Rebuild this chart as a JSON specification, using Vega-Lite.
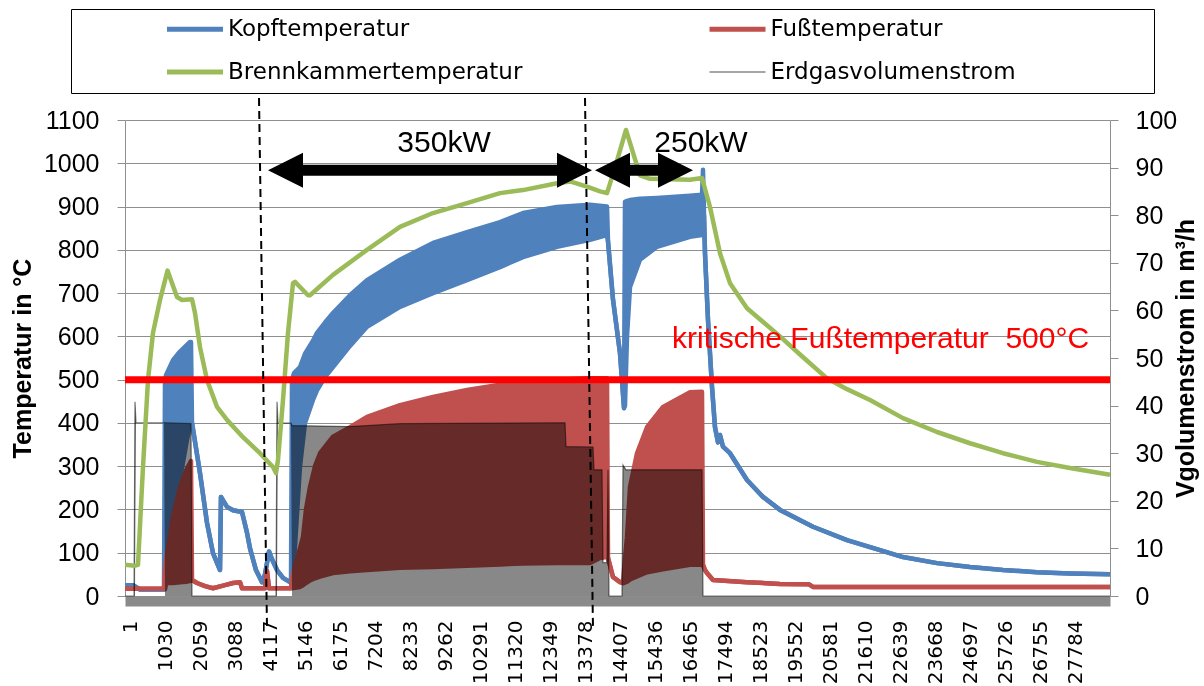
{
  "$schema": "https://vega.github.io/schema/vega-lite/v6.json",
  "width": 985,
  "height": 476,
  "autosize": {"type": "none"},
  "padding": {"left": 125, "top": 120, "right": 94, "bottom": 90},
  "background": "white",
  "config": {
    "view": {"stroke": null},
    "font": "Liberation Sans",
    "axis": {"labelColor": "black", "titleColor": "black"},
    "axisX": {"labelOverlap": false, "labelSeparation": 0}
  },
  "datasets": {
    "kopf": [
      {"s":1,"lo":25,"hi":25},{"s":236,"lo":25,"hi":25},{"s":442,"lo":15,"hi":15},{"s":1148,"lo":15,"hi":15},
      {"s":1177,"lo":15,"hi":500},{"s":1206,"lo":75,"hi":510},{"s":1412,"lo":170,"hi":545},{"s":1618,"lo":270,"hi":565},
      {"s":1912,"lo":400,"hi":587},{"s":1941,"lo":400,"hi":587},{"s":1971,"lo":400,"hi":400},{"s":2206,"lo":284,"hi":284},
      {"s":2412,"lo":169,"hi":169},{"s":2588,"lo":99,"hi":99},{"s":2794,"lo":60,"hi":60},{"s":2823,"lo":229,"hi":229},
      {"s":3000,"lo":206,"hi":206},{"s":3176,"lo":198,"hi":198},{"s":3441,"lo":194,"hi":194},{"s":3588,"lo":146,"hi":146},
      {"s":3676,"lo":110,"hi":110},{"s":3852,"lo":60,"hi":60},{"s":4029,"lo":32,"hi":32},{"s":4117,"lo":50,"hi":50},
      {"s":4235,"lo":103,"hi":103},{"s":4323,"lo":85,"hi":85},{"s":4470,"lo":60,"hi":60},{"s":4646,"lo":42,"hi":42},
      {"s":4852,"lo":32,"hi":32},{"s":4881,"lo":30,"hi":30},{"s":4911,"lo":30,"hi":500},{"s":4970,"lo":80,"hi":515},
      {"s":5146,"lo":300,"hi":529},{"s":5293,"lo":400,"hi":560},{"s":5528,"lo":453,"hi":590},{"s":5646,"lo":475,"hi":608},
      {"s":5881,"lo":506,"hi":632},{"s":6116,"lo":529,"hi":654},{"s":6616,"lo":578,"hi":695},{"s":7116,"lo":622,"hi":730},
      {"s":8086,"lo":668,"hi":777},{"s":9056,"lo":700,"hi":816},{"s":10056,"lo":730,"hi":841},{"s":11026,"lo":760,"hi":864},
      {"s":11702,"lo":783,"hi":885},{"s":12702,"lo":807,"hi":899},{"s":13672,"lo":823,"hi":904},{"s":14172,"lo":834,"hi":900},
      {"s":14201,"lo":820,"hi":820},{"s":14348,"lo":685,"hi":685},{"s":14554,"lo":561,"hi":561},{"s":14672,"lo":434,"hi":434},
      {"s":14701,"lo":440,"hi":911},{"s":14760,"lo":600,"hi":913},{"s":14848,"lo":714,"hi":915},{"s":15142,"lo":777,"hi":918},
      {"s":15642,"lo":807,"hi":920},{"s":16612,"lo":830,"hi":925},{"s":16965,"lo":834,"hi":927},{"s":16994,"lo":834,"hi":985},
      {"s":17024,"lo":880,"hi":880},{"s":17053,"lo":792,"hi":792},{"s":17141,"lo":638,"hi":638},{"s":17259,"lo":483,"hi":483},
      {"s":17347,"lo":390,"hi":390},{"s":17435,"lo":355,"hi":355},{"s":17494,"lo":372,"hi":372},{"s":17582,"lo":345,"hi":345},
      {"s":17788,"lo":330,"hi":330},{"s":18288,"lo":268,"hi":268},{"s":18758,"lo":229,"hi":229},{"s":19258,"lo":199,"hi":199},
      {"s":20228,"lo":160,"hi":160},{"s":21228,"lo":129,"hi":129},{"s":22198,"lo":106,"hi":106},{"s":22874,"lo":90,"hi":90},
      {"s":23874,"lo":76,"hi":76},{"s":24844,"lo":67,"hi":67},{"s":25814,"lo":60,"hi":60},{"s":26814,"lo":55,"hi":55},
      {"s":27784,"lo":52,"hi":52},{"s":28960,"lo":50,"hi":50}
    ],
    "fuss": [
      {"s":1,"lo":17,"hi":17},{"s":1148,"lo":17,"hi":17},{"s":1177,"lo":17,"hi":60},{"s":1206,"lo":30,"hi":83},
      {"s":1412,"lo":30,"hi":183},{"s":1618,"lo":32,"hi":252},{"s":1795,"lo":33,"hi":290},{"s":1941,"lo":35,"hi":312},
      {"s":1971,"lo":37,"hi":37},{"s":2118,"lo":30,"hi":30},{"s":2353,"lo":23,"hi":23},{"s":2588,"lo":18,"hi":18},
      {"s":2941,"lo":25,"hi":25},{"s":3176,"lo":30,"hi":30},{"s":3382,"lo":32,"hi":32},{"s":3441,"lo":18,"hi":18},
      {"s":4117,"lo":18,"hi":18},{"s":4176,"lo":58,"hi":58},{"s":4235,"lo":18,"hi":18},{"s":4881,"lo":18,"hi":18},
      {"s":4911,"lo":18,"hi":40},{"s":4999,"lo":19,"hi":70},{"s":5146,"lo":21,"hi":110},{"s":5234,"lo":25,"hi":136},
      {"s":5322,"lo":30,"hi":200},{"s":5440,"lo":36,"hi":252},{"s":5587,"lo":41,"hi":300},{"s":5734,"lo":45,"hi":330},
      {"s":6116,"lo":53,"hi":368},{"s":6616,"lo":57,"hi":390},{"s":7116,"lo":60,"hi":414},{"s":8086,"lo":65,"hi":441},
      {"s":9056,"lo":67,"hi":460},{"s":10056,"lo":70,"hi":476},{"s":11026,"lo":73,"hi":488},{"s":11702,"lo":75,"hi":496},
      {"s":12702,"lo":76,"hi":500},{"s":13672,"lo":76,"hi":503},{"s":13966,"lo":88,"hi":503},{"s":14172,"lo":90,"hi":503},
      {"s":14201,"lo":88,"hi":88},{"s":14348,"lo":44,"hi":44},{"s":14554,"lo":32,"hi":32},{"s":14642,"lo":30,"hi":30},
      {"s":14672,"lo":30,"hi":60},{"s":14760,"lo":33,"hi":136},{"s":14848,"lo":38,"hi":252},{"s":15054,"lo":45,"hi":330},
      {"s":15348,"lo":55,"hi":390},{"s":15818,"lo":62,"hi":437},{"s":16612,"lo":72,"hi":471},{"s":16965,"lo":72,"hi":472},
      {"s":16994,"lo":72,"hi":72},{"s":17053,"lo":60,"hi":60},{"s":17112,"lo":53,"hi":53},{"s":17288,"lo":37,"hi":37},
      {"s":18288,"lo":32,"hi":32},{"s":19258,"lo":28,"hi":28},{"s":20110,"lo":27,"hi":27},{"s":20228,"lo":21,"hi":21},
      {"s":28960,"lo":21,"hi":21}
    ],
    "brenn": [
      {"s":1,"t":72},{"s":295,"t":70},{"s":383,"t":72},{"s":530,"t":298},{"s":677,"t":499},{"s":824,"t":608},
      {"s":1030,"t":684},{"s":1251,"t":752},{"s":1530,"t":691},{"s":1677,"t":684},{"s":1971,"t":686},{"s":2059,"t":654},
      {"s":2206,"t":575},{"s":2412,"t":499},{"s":2706,"t":437},{"s":3000,"t":407},{"s":3470,"t":367},{"s":3970,"t":330},
      {"s":4352,"t":298},{"s":4440,"t":284},{"s":4499,"t":314},{"s":4646,"t":453},{"s":4793,"t":608},{"s":4940,"t":723},
      {"s":4999,"t":726},{"s":5146,"t":714},{"s":5381,"t":695},{"s":5440,"t":695},{"s":6116,"t":742},{"s":7116,"t":800},
      {"s":8086,"t":853},{"s":9056,"t":885},{"s":10056,"t":908},{"s":11026,"t":931},{"s":11702,"t":938},{"s":12702,"t":954},
      {"s":13084,"t":958},{"s":13584,"t":946},{"s":13966,"t":935},{"s":14172,"t":931},{"s":14407,"t":990},{"s":14730,"t":1077},
      {"s":15142,"t":972},{"s":15436,"t":964},{"s":16612,"t":962},{"s":16965,"t":966},{"s":17200,"t":899},{"s":17494,"t":792},
      {"s":17788,"t":723},{"s":18288,"t":665},{"s":19258,"t":600},{"s":19846,"t":558},{"s":20640,"t":503},{"s":21228,"t":478},
      {"s":21904,"t":453},{"s":22874,"t":411},{"s":23874,"t":379},{"s":24844,"t":353},{"s":25814,"t":330},{"s":26814,"t":310},
      {"s":27784,"t":296},{"s":28960,"t":280}
    ],
    "gas": [
      {"s":1,"lo":0,"hi":0},{"s":266,"lo":0,"hi":0},{"s":295,"lo":0,"hi":40.8},{"s":324,"lo":36.4,"hi":36.4},
      {"s":1148,"lo":36.4,"hi":36.4},{"s":1177,"lo":0,"hi":36.4},{"s":1941,"lo":0,"hi":36.2},{"s":1971,"lo":0,"hi":0},
      {"s":4441,"lo":0,"hi":0},{"s":4470,"lo":0,"hi":40.8},{"s":4499,"lo":36.3,"hi":36.3},{"s":4881,"lo":36.3,"hi":36.3},
      {"s":4911,"lo":0,"hi":35.8},{"s":6616,"lo":0,"hi":35.6},{"s":8086,"lo":0,"hi":36.2},{"s":12937,"lo":0,"hi":36.4},
      {"s":12966,"lo":0,"hi":31.4},{"s":13760,"lo":0,"hi":31.3},{"s":13790,"lo":0,"hi":26.5},{"s":14025,"lo":0,"hi":26.5},
      {"s":14054,"lo":0,"hi":7},{"s":14172,"lo":0,"hi":7},{"s":14201,"lo":0,"hi":26.5},{"s":14231,"lo":0,"hi":0},
      {"s":14613,"lo":0,"hi":0},{"s":14642,"lo":0,"hi":27.5},{"s":14730,"lo":0,"hi":26.5},{"s":16965,"lo":0,"hi":26.5},
      {"s":16994,"lo":0,"hi":0},{"s":28960,"lo":0,"hi":0}
    ],
    "grenze": [{"t": 500, "s": 16083, "text": "kritische Fußtemperatur\u00a0 500°C"}],
    "phasen": [
      {"s1": 3941, "s2": 4176, "t1": 1151, "t2": -74},
      {"s1": 13525, "s2": 13760, "t1": 1151, "t2": -74}
    ],
    "pfeile": [
      {"from": 4205, "to": 13730, "s1": 4852, "s2": 13084, "t": 984, "label": "350kW", "at": 9380},
      {"from": 13819, "to": 16700, "s1": 14407, "s2": 16112, "t": 984, "label": "250kW", "at": 16935}
    ]
  },
  "layer": [
    {
      "layer": [
        {
          "data": {"name": "kopf"},
          "mark": {"type": "area"},
          "encoding": {
            "x": {
              "field": "s", "type": "quantitative", "title": null,
              "scale": {"domain": [1, 28960]},
              "axis": {
                "values": [1,1030,2059,3088,4117,5146,6175,7204,8233,9262,10291,11320,12349,13378,14407,15436,16465,17494,18523,19552,20581,21610,22639,23668,24697,25726,26755,27784],
                "tickCount": 40,
                "format": "d", "labelAngle": -90, "ticks": false, "grid": false,
                "domainColor": "#8a8a8a", "domainWidth": 10, "offset": 5,
                "labelPadding": 19, "labelOffset": 5, "labelFont": "DejaVu Sans", "labelFontSize": 20,
                "labelOverlap": false, "labelSeparation": 0, "labelFlush": false
              }
            },
            "y": {
              "field": "lo", "type": "quantitative", "title": "Temperatur in °C",
              "scale": {"domain": [0, 1100]},
              "axis": {
                "orient": "left", "values": [0,100,200,300,400,500,600,700,800,900,1000,1100], "format": "d",
                "tickCount": 20,
                "grid": true, "gridColor": "#8f8f8f", "domainColor": "#8f8f8f", "tickColor": "#8f8f8f",
                "tickSize": 8, "labelPadding": 18, "labelFont": "Liberation Sans", "labelFontSize": 25,
                "titleFont": "Liberation Sans", "titleFontSize": 25, "titleFontWeight": "bold",
                "titleAngle": -90, "titleX": -95, "titleY": 238, "titleAlign": "center", "titleBaseline": "alphabetic"
              }
            },
            "y2": {"field": "hi"},
            "color": {
              "datum": "Kopftemperatur",
              "scale": {
                "domain": ["Kopftemperatur", "Brennkammertemperatur", "Fußtemperatur", "Erdgasvolumenstrom"],
                "range": ["#4f81bd", "#9bbb59", "#c0504d", "#888888"]
              },
              "legend": {
                "orient": "none", "legendX": -54, "legendY": -111,
                "columns": 2, "columnPadding": 99.5, "rowPadding": 19,
                "padding": 8.5, "strokeColor": "black",
                "symbolType": "M-5,0L5,0", "symbolSize": 125.4,
                "symbolOffset": 104, "labelOffset": 21.5,
                "labelFont": "DejaVu Sans", "labelFontSize": 23, "labelColor": "black", "labelLimit": 500,
                "title": " ", "titleOrient": "right", "titlePadding": 130, "titleFontSize": 1,
                "encode": {
                  "symbols": {
                    "update": {
                      "fill": {"value": "transparent"},
                      "stroke": {"scale": "color", "field": "value"},
                      "strokeWidth": {"signal": "datum.value === 'Erdgasvolumenstrom' ? 1.5 : 5"},
                      "opacity": {"value": 1}
                    }
                  }
                }
              }
            }
          }
        },
        {
          "data": {"name": "kopf"},
          "mark": {"type": "line", "color": "#4f81bd", "strokeWidth": 4.5, "strokeJoin": "round"},
          "encoding": {
            "x": {"field": "s", "type": "quantitative", "title": null, "scale": {"domain": [1, 28960]}},
            "y": {"field": "lo", "type": "quantitative", "title": "Temperatur in °C", "scale": {"domain": [0, 1100]}}
          }
        },
        {
          "data": {"name": "kopf"},
          "mark": {"type": "line", "color": "#4f81bd", "strokeWidth": 4.5, "strokeJoin": "round"},
          "encoding": {
            "x": {"field": "s", "type": "quantitative", "title": null, "scale": {"domain": [1, 28960]}},
            "y": {"field": "hi", "type": "quantitative", "title": "Temperatur in °C", "scale": {"domain": [0, 1100]}}
          }
        },
        {
          "data": {"name": "fuss"},
          "mark": {"type": "area"},
          "encoding": {
            "x": {"field": "s", "type": "quantitative", "title": null, "scale": {"domain": [1, 28960]}},
            "y": {"field": "lo", "type": "quantitative", "title": "Temperatur in °C", "scale": {"domain": [0, 1100]}},
            "y2": {"field": "hi"},
            "color": {"datum": "Fußtemperatur"}
          }
        },
        {
          "data": {"name": "fuss"},
          "mark": {"type": "line", "color": "#c0504d", "strokeWidth": 4.5, "strokeJoin": "round"},
          "encoding": {
            "x": {"field": "s", "type": "quantitative", "title": null, "scale": {"domain": [1, 28960]}},
            "y": {"field": "lo", "type": "quantitative", "title": "Temperatur in °C", "scale": {"domain": [0, 1100]}}
          }
        },
        {
          "data": {"name": "fuss"},
          "mark": {"type": "line", "color": "#c0504d", "strokeWidth": 4.5, "strokeJoin": "round"},
          "encoding": {
            "x": {"field": "s", "type": "quantitative", "title": null, "scale": {"domain": [1, 28960]}},
            "y": {"field": "hi", "type": "quantitative", "title": "Temperatur in °C", "scale": {"domain": [0, 1100]}}
          }
        }
      ]
    },
    {
      "layer": [
        {
          "data": {"name": "gas"},
          "mark": {"type": "area", "blend": "multiply"},
          "encoding": {
            "x": {"field": "s", "type": "quantitative", "title": null, "scale": {"domain": [1, 28960]}},
            "y": {
              "field": "lo", "type": "quantitative", "title": "Vgolumenstrom in m³/h",
              "scale": {"domain": [0, 100]},
              "axis": {
                "orient": "right", "values": [0,10,20,30,40,50,60,70,80,90,100], "format": "d",
                "tickCount": 20,
                "grid": false, "domainColor": "#8f8f8f", "tickColor": "#8f8f8f", "tickSize": 8,
                "labelPadding": 17, "labelFont": "Liberation Sans", "labelFontSize": 25,
                "titleFont": "Liberation Sans", "titleFontSize": 25, "titleFontWeight": "bold",
                "titleAngle": -90, "titleX": 83, "titleY": 238, "titleAlign": "center", "titleBaseline": "alphabetic"
              }
            },
            "y2": {"field": "hi"},
            "color": {"datum": "Erdgasvolumenstrom"}
          }
        },
        {
          "data": {"name": "gas"},
          "mark": {"type": "line", "color": "#7a7a7a", "strokeWidth": 1.2, "blend": "multiply"},
          "encoding": {
            "x": {"field": "s", "type": "quantitative", "title": null, "scale": {"domain": [1, 28960]}},
            "y": {"field": "hi", "type": "quantitative", "title": "Vgolumenstrom in m³/h", "scale": {"domain": [0, 100]}}
          }
        }
      ]
    },
    {
      "layer": [
        {
          "data": {"name": "brenn"},
          "mark": {"type": "line", "strokeWidth": 4.5, "strokeJoin": "round"},
          "encoding": {
            "x": {"field": "s", "type": "quantitative", "title": null, "scale": {"domain": [1, 28960]}},
            "y": {"field": "t", "type": "quantitative", "scale": {"domain": [0, 1100]}, "axis": null},
            "color": {"datum": "Brennkammertemperatur"}
          }
        },
        {
          "data": {"name": "grenze"},
          "mark": {"type": "rule", "color": "#ff0000", "strokeWidth": 7},
          "encoding": {
            "y": {"field": "t", "type": "quantitative", "scale": {"domain": [0, 1100]}, "axis": null}
          }
        },
        {
          "data": {"name": "grenze"},
          "mark": {"type": "text", "font": "Liberation Sans", "fontSize": 30, "color": "#ff0000", "align": "left", "baseline": "alphabetic", "dy": -32},
          "encoding": {
            "x": {"field": "s", "type": "quantitative", "title": null, "scale": {"domain": [1, 28960]}},
            "y": {"field": "t", "type": "quantitative", "scale": {"domain": [0, 1100]}, "axis": null},
            "text": {"field": "text"}
          }
        },
        {
          "data": {"name": "phasen"},
          "mark": {"type": "rule", "color": "black", "strokeWidth": 2, "strokeDash": [8, 5]},
          "encoding": {
            "x": {"field": "s1", "type": "quantitative", "title": null, "scale": {"domain": [1, 28960]}},
            "x2": {"field": "s2"},
            "y": {"field": "t1", "type": "quantitative", "scale": {"domain": [0, 1100]}, "axis": null},
            "y2": {"field": "t2"}
          }
        },
        {
          "data": {"name": "pfeile"},
          "mark": {"type": "rule", "color": "black", "strokeWidth": 11, "strokeCap": "butt"},
          "encoding": {
            "x": {"field": "s1", "type": "quantitative", "title": null, "scale": {"domain": [1, 28960]}},
            "x2": {"field": "s2"},
            "y": {"field": "t", "type": "quantitative", "scale": {"domain": [0, 1100]}, "axis": null}
          }
        },
        {
          "data": {"name": "pfeile"},
          "mark": {"type": "point", "shape": "M0,0L2,-1L2,1Z", "filled": true, "color": "black", "size": 1225, "opacity": 1, "strokeWidth": 0},
          "encoding": {
            "x": {"field": "from", "type": "quantitative", "title": null, "scale": {"domain": [1, 28960]}},
            "y": {"field": "t", "type": "quantitative", "scale": {"domain": [0, 1100]}, "axis": null}
          }
        },
        {
          "data": {"name": "pfeile"},
          "mark": {"type": "point", "shape": "M0,0L-2,-1L-2,1Z", "filled": true, "color": "black", "size": 1225, "opacity": 1, "strokeWidth": 0},
          "encoding": {
            "x": {"field": "to", "type": "quantitative", "title": null, "scale": {"domain": [1, 28960]}},
            "y": {"field": "t", "type": "quantitative", "scale": {"domain": [0, 1100]}, "axis": null}
          }
        },
        {
          "data": {"name": "pfeile"},
          "mark": {"type": "text", "font": "Liberation Sans", "fontSize": 30, "color": "black", "align": "center", "baseline": "alphabetic", "dy": -18},
          "encoding": {
            "x": {"field": "at", "type": "quantitative", "title": null, "scale": {"domain": [1, 28960]}},
            "y": {"field": "t", "type": "quantitative", "scale": {"domain": [0, 1100]}, "axis": null},
            "text": {"field": "label"}
          }
        }
      ]
    }
  ],
  "resolve": {"scale": {"y": "independent"}}
}
